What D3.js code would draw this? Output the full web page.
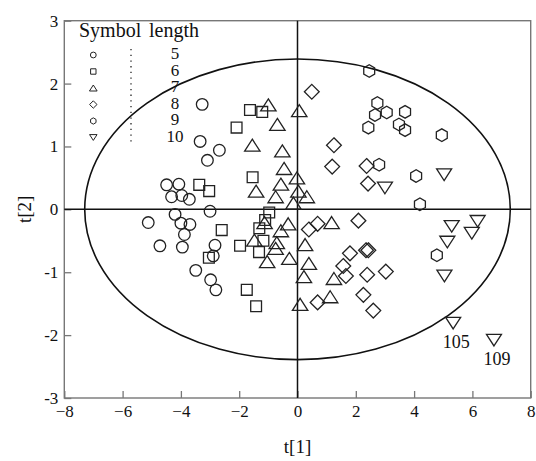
<!DOCTYPE html>
<html>
<head>
<meta charset="utf-8">
<script src="https://cdn.jsdelivr.net/npm/d3@7"></script>
<style>
  body { margin: 0; background: #fff; }
  svg { display: block; font-family: "Liberation Serif", "Times New Roman", serif; }
</style>
</head>
<body>
<svg width="536" height="461"></svg>
<script>
// Score points t[1], t[2] for each symbol length
const len5 = [[-3.27, 1.67], [-3.34, 1.08], [-2.68, 0.94], [-3.09, 0.78], [-4.49, 0.39], [-4.07, 0.40],
  [-4.32, 0.20], [-3.97, 0.22], [-3.71, 0.16], [-4.20, -0.08], [-5.12, -0.21], [-4.00, -0.22],
  [-3.69, -0.24], [-3.88, -0.40], [-4.72, -0.58], [-3.95, -0.60], [-3.00, -0.03], [-2.83, -0.57],
  [-2.89, -0.74], [-3.49, -0.97], [-2.98, -1.12], [-2.80, -1.28]];
const len6 = [[-1.63, 1.58], [-1.21, 1.55], [-2.09, 1.30], [-1.54, 0.51], [-3.37, 0.39], [-3.03, 0.29],
  [-0.97, -0.05], [-1.11, -0.17], [-1.31, -0.30], [-1.17, -0.50], [-1.97, -0.58], [-1.32, -0.68],
  [-2.60, -0.33], [-3.04, -0.77], [-1.74, -1.28], [-1.42, -1.54]];
const len7 = [[-1.00, 1.66], [0.06, 1.57], [-0.69, 1.35], [-1.55, 1.02], [-0.52, 0.93], [-0.46, 0.65],
  [-0.02, 0.50], [-0.57, 0.40], [-1.42, 0.29], [-0.75, 0.20], [0.03, 0.29], [0.32, 0.20],
  [-0.14, 0.10], [-1.13, -0.21], [-0.32, -0.23], [-0.57, -0.34], [-1.48, -0.49], [-0.71, -0.53],
  [-0.75, -0.62], [0.26, -0.56], [-0.28, -0.78], [-1.04, -0.83], [0.39, -0.86], [0.22, -1.07],
  [1.17, -0.21], [1.25, -1.10], [1.12, -1.39], [0.09, -1.51]];
const len8 = [[0.49, 1.87], [1.25, 1.02], [1.19, 0.68], [2.37, 0.69], [2.42, 0.41], [2.09, -0.18],
  [0.39, -0.32], [0.69, -0.23], [1.80, -0.70], [2.35, -0.65], [2.43, -0.65], [1.57, -0.90],
  [1.66, -1.06], [2.39, -1.04], [3.03, -0.99], [2.26, -1.36], [2.60, -1.61], [0.69, -1.48]];
const len9 = [[2.46, 2.20], [2.74, 1.69], [3.06, 1.54], [2.66, 1.50], [2.43, 1.30], [3.69, 1.55],
  [3.48, 1.35], [3.69, 1.26], [4.95, 1.18], [2.80, 0.71], [4.07, 0.53], [4.20, 0.08], [4.78, -0.73]];
const len10 = [[5.03, 0.55], [3.00, 0.34], [5.29, -0.27], [6.18, -0.19], [5.98, -0.38], [5.14, -0.52],
  [5.04, -1.06], [5.34, -1.81], [6.74, -2.08]];

// labelled observations
const labelled = [{ name: '105', x: 5.34, y: -1.81 }, { name: '109', x: 6.74, y: -2.08 }];

const legendLengths = [5, 6, 7, 8, 9, 10];
const xTicks = [-8, -6, -4, -2, 0, 2, 4, 6, 8];
const yTicks = [-3, -2, -1, 0, 1, 2, 3];
// confidence ellipse half axes
const ellipseRx = 7.3;
const ellipseRy = 2.39;

const svg = d3.select('svg');
const plotLeft = 64.3, plotRight = 530.7, plotTop = 20.7, plotBottom = 398;

const xScale = d3.scaleLinear().domain([-8, 8]).range([plotLeft, plotRight]);
const yScale = d3.scaleLinear().domain([-3, 3]).range([plotBottom, plotTop]);

// shape paths centered on 0,0; k scales the size
const shapes = {
  5: (k) => { const r = 5.8 * k; return `M${r},0A${r},${r} 0 1,1 ${-r},0A${r},${r} 0 1,1 ${r},0Z`; },
  6: (k) => { const h = 5.4 * k; return `M${-h},${-h}H${h}V${h}H${-h}Z`; },
  7: (k) => { const w = 7.7 * k, h = 6 * k; return `M0,${-h}L${w},${h}L${-w},${h}Z`; },
  8: (k) => { const d = 7.4 * k; return `M0,${-d}L${d},0L0,${d}L${-d},0Z`; },
  9: (k) => {
    const r = 6.3 * k;
    const pts = d3.range(6).map((i) => {
      const a = Math.PI / 2 + i * Math.PI / 3;
      return [r * Math.cos(a), r * Math.sin(a)];
    });
    return 'M' + pts.map((p) => p.join(',')).join('L') + 'Z';
  },
  10: (k) => { const w = 7.5 * k, h = 5.8 * k; return `M0,${h}L${w},${-h}L${-w},${-h}Z`; }
};

// frame
svg.append('rect')
  .attr('x', plotLeft).attr('y', plotTop)
  .attr('width', plotRight - plotLeft).attr('height', plotBottom - plotTop)
  .attr('fill', 'none').attr('stroke', '#777').attr('stroke-width', 1.4);

// axes with inward ticks
const xAxis = d3.axisBottom(xScale).tickValues(xTicks)
  .tickFormat((d) => (d < 0 ? '\u2212' + Math.abs(d) : d))
  .tickSizeInner(-7).tickSizeOuter(0).tickPadding(7);
const yAxis = d3.axisLeft(yScale).tickValues(yTicks)
  .tickFormat((d) => d)
  .tickSizeInner(-7).tickSizeOuter(0).tickPadding(6);

const gx = svg.append('g').attr('transform', `translate(0,${plotBottom})`).call(xAxis);
const gy = svg.append('g').attr('transform', `translate(${plotLeft},0)`).call(yAxis);
[gx, gy].forEach((g) => {
  g.select('.domain').remove();
  g.selectAll('.tick line').attr('stroke', '#777').attr('stroke-width', 1.3);
  g.selectAll('.tick text').attr('fill', '#111').attr('font-size', '17px')
    .attr('font-family', '"Liberation Serif", serif');
});

// zero lines
svg.append('line')
  .attr('x1', plotLeft).attr('x2', plotRight).attr('y1', yScale(0)).attr('y2', yScale(0))
  .attr('stroke', '#111').attr('stroke-width', 1.5);
svg.append('line')
  .attr('x1', xScale(0)).attr('x2', xScale(0)).attr('y1', plotTop).attr('y2', plotBottom)
  .attr('stroke', '#111').attr('stroke-width', 1.5);

// ellipse
svg.append('ellipse')
  .attr('cx', xScale(0)).attr('cy', yScale(0))
  .attr('rx', xScale(ellipseRx) - xScale(0)).attr('ry', yScale(0) - yScale(ellipseRy))
  .attr('fill', 'none').attr('stroke', '#111').attr('stroke-width', 1.6);

// points
const groups = [[5, len5], [6, len6], [7, len7], [8, len8], [9, len9], [10, len10]];
groups.forEach(([len, pts]) => {
  svg.append('g').selectAll('path').data(pts).join('path')
    .attr('transform', (d) => `translate(${xScale(d[0])},${yScale(d[1])})`)
    .attr('d', shapes[len](1))
    .attr('fill', 'none').attr('stroke', '#222').attr('stroke-width', 1.3);
});

// point labels
svg.append('g').selectAll('text').data(labelled).join('text')
  .attr('x', (d) => xScale(d.x) + 3)
  .attr('y', (d) => yScale(d.y) + 25)
  .attr('text-anchor', 'middle')
  .attr('font-size', '18px').attr('fill', '#111')
  .text((d) => d.name);

// legend
const legend = svg.append('g');
legend.append('text').attr('x', 79).attr('y', 37).attr('font-size', '20px').attr('fill', '#111').text('Symbol');
legend.append('text').attr('x', 149).attr('y', 37).attr('font-size', '20px').attr('fill', '#111').text('length');
legend.append('line')
  .attr('x1', 131).attr('x2', 131).attr('y1', 49).attr('y2', 143)
  .attr('stroke', '#222').attr('stroke-width', 1.3).attr('stroke-dasharray', '1.3 4.4');
legendLengths.forEach((len, i) => {
  const base = 59.3 + i * 16.5;
  legend.append('path')
    .attr('transform', `translate(93.3,${base - 4.3})`)
    .attr('d', shapes[len](0.5))
    .attr('fill', 'none').attr('stroke', '#222').attr('stroke-width', 1);
  legend.append('text')
    .attr('x', 175).attr('y', base)
    .attr('text-anchor', 'middle').attr('font-size', '17px').attr('fill', '#111')
    .text(len);
});

// axis titles
svg.append('text')
  .attr('x', xScale(0)).attr('y', 453)
  .attr('text-anchor', 'middle').attr('font-size', '19px').attr('fill', '#111')
  .text('t[1]');
svg.append('text')
  .attr('transform', `translate(31,${yScale(0)}) rotate(-90)`)
  .attr('text-anchor', 'middle').attr('font-size', '19px').attr('fill', '#111')
  .text('t[2]');
</script>
</body>
</html>
